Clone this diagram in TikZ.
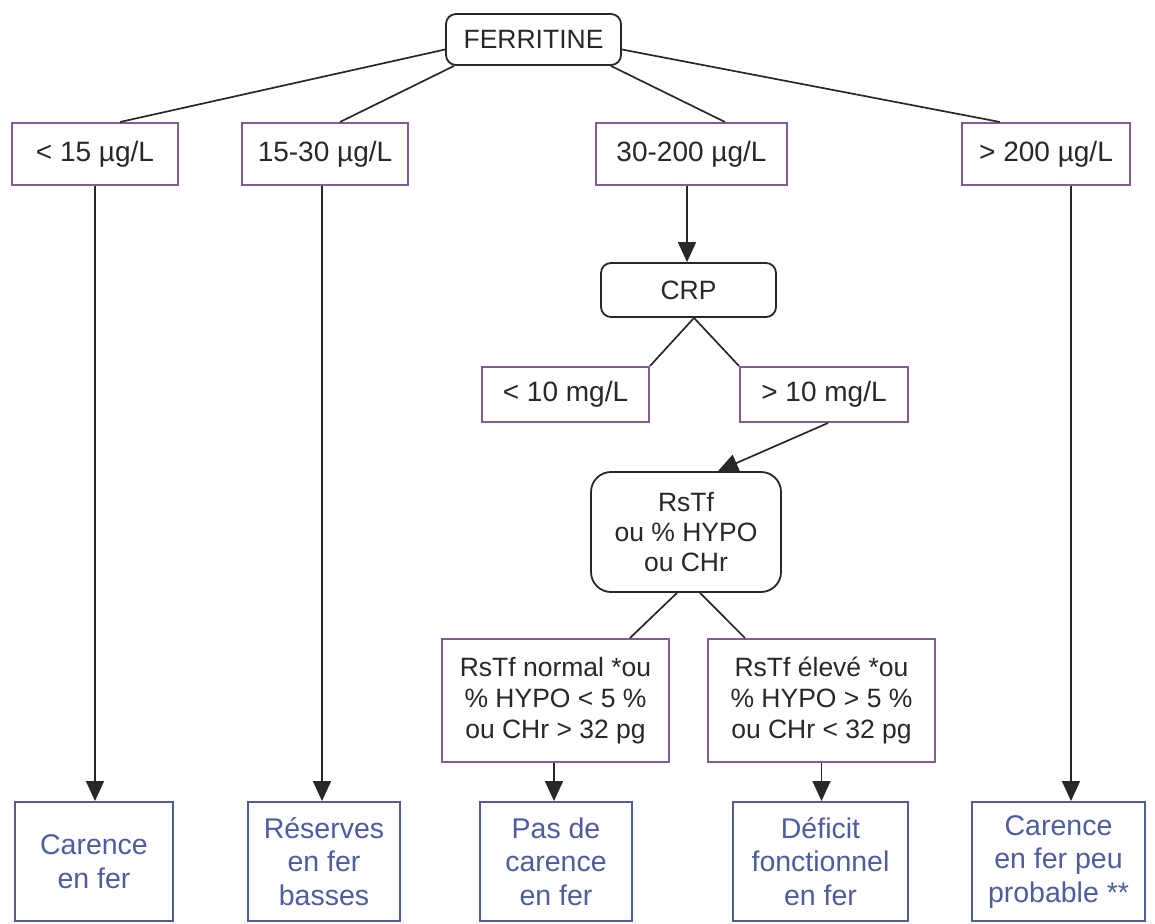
\documentclass[tikz,border=0pt]{standalone}
\usepackage{fontspec}
\setmainfont{Liberation Sans}
\usetikzlibrary{arrows.meta}

\definecolor{inkgray}{RGB}{40,40,40}
\definecolor{rangeedge}{RGB}{130,92,150}
\definecolor{resultedge}{RGB}{82,92,150}
\definecolor{resulttext}{RGB}{78,92,160}

\tikzset{
  testbox/.style={draw=inkgray, line width=1.8pt, rounded corners=10pt, fill=white,
    inner sep=0pt, align=center, text=inkgray, font=\fontsize{26.5}{30}\selectfont},
  rangebox/.style={draw=rangeedge, line width=2pt, fill=white, inner sep=0pt,
    align=center, text=inkgray, font=\fontsize{28}{33}\selectfont},
  condbox/.style={draw=rangeedge, line width=2pt, fill=white, inner sep=0pt,
    align=center, text=inkgray, font=\fontsize{26.5}{31}\selectfont},
  resultbox/.style={draw=resultedge, line width=2pt, fill=white, inner sep=0pt,
    align=center, text=resulttext, font=\fontsize{28.5}{33.5}\selectfont},
  link/.style={draw=inkgray, line width=1.7pt},
  flow/.style={link, -{Triangle[width=18pt,length=20pt]}}
}

\begin{document}
\begin{tikzpicture}[x=1pt,y=-1pt]
  \useasboundingbox[fill=white] (0,0) rectangle (1155,923);

  % top test
  \node[testbox, minimum width=175pt, minimum height=51pt] (fer) at (533.5,39.5) {FERRITINE};

  % ferritin ranges
  \node[rangebox, minimum width=166pt, minimum height=62pt] (r1) at (95,154) {< 15 µg/L};
  \node[rangebox, minimum width=166pt, minimum height=62pt] (r2) at (325,154) {15-30 µg/L};
  \node[rangebox, minimum width=191pt, minimum height=62pt] (r3) at (691.5,154) {30-200 µg/L};
  \node[rangebox, minimum width=168pt, minimum height=62pt] (r4) at (1046,154) {> 200 µg/L};

  % CRP branch
  \node[testbox, minimum width=175pt, minimum height=54pt] (crp) at (688.5,290) {CRP};
  \node[rangebox, minimum width=167pt, minimum height=55pt] (c1) at (565.5,394.5) {< 10 mg/L};
  \node[rangebox, minimum width=168pt, minimum height=55pt] (c2) at (824,394.5) {> 10 mg/L};

  \node[testbox, rounded corners=20pt, minimum width=190pt, minimum height=120pt] (rstf) at (686,532)
    {RsTf\\ou \% HYPO\\ou CHr};

  \node[condbox, minimum width=227pt, minimum height=123pt] (d1) at (555.5,700.5)
    {RsTf normal *ou\\\% HYPO < 5 \%\\ou CHr > 32 pg};
  \node[condbox, minimum width=227pt, minimum height=123pt] (d2) at (821.5,700.5)
    {RsTf élevé *ou\\\% HYPO > 5 \%\\ou CHr < 32 pg};

  % conclusions
  \node[resultbox, minimum width=158pt, minimum height=119pt] (b1) at (94,861.5) {Carence\\en fer};
  \node[resultbox, minimum width=152pt, minimum height=119pt] (b2) at (324,861.5) {Réserves\\en fer\\basses};
  \node[resultbox, minimum width=152pt, minimum height=119pt] (b3) at (556,861.5) {Pas de\\carence\\en fer};
  \node[resultbox, minimum width=175pt, minimum height=119pt] (b4) at (820.5,861.5) {Déficit\\fonctionnel\\en fer};
  \node[resultbox, minimum width=173pt, minimum height=119pt] (b5) at (1058.5,861.5) {Carence\\en fer peu\\probable **};

  % ferritin to ranges
  \draw[link] ([yshift=-10pt]fer.west) -- ([xshift=25pt]r1.north);
  \draw[link] ([xshift=9pt]fer.south west) -- ([xshift=15pt]r2.north);
  \draw[link] ([xshift=-11pt]fer.south east) -- ([xshift=33.5pt]r3.north);
  \draw[link] ([yshift=-10pt]fer.east) -- ([xshift=-46pt]r4.north);

  % ranges to conclusions
  \draw[flow] (r1.south) -- (r1.south |- b1.north);
  \draw[flow] ([xshift=-3pt]r2.south) -- ([xshift=-3pt]r2.south |- b2.north);
  \draw[flow] ([xshift=-4.5pt]r3.south) -- ([xshift=-4.5pt]r3.south |- crp.north);
  \draw[flow] ([xshift=25pt]r4.south) -- ([xshift=25pt]r4.south |- b5.north);

  % CRP branch
  \draw[link] ([xshift=5.5pt]crp.south) -- (c1.north east);
  \draw[link] ([xshift=5.5pt]crp.south) -- (c2.north west);
  \draw[flow] ([xshift=4pt]c2.south) -- ([xshift=32pt]rstf.north);

  \draw[link] ([xshift=-9pt]rstf.south) -- ([xshift=74.5pt]d1.north);
  \draw[link] ([xshift=14pt]rstf.south) -- ([xshift=-76.5pt]d2.north);

  \draw[flow] ([xshift=-1.5pt]d1.south) -- ([xshift=-1.5pt]d1.south |- b3.north);
  \draw[flow] (d2.south) -- (d2.south |- b4.north);
\end{tikzpicture}
\end{document}
